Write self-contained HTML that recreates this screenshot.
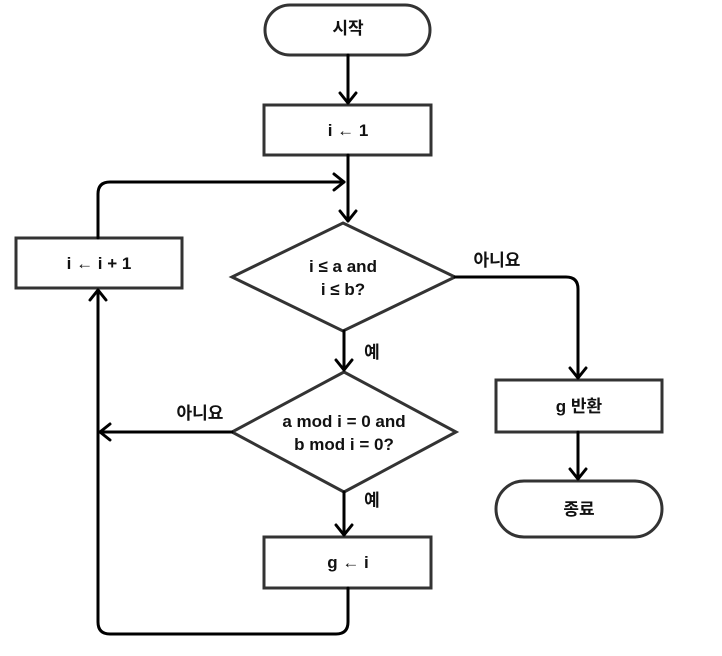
<!DOCTYPE html>
<html><head><meta charset="utf-8"><style>
html,body{margin:0;padding:0;background:#fff;}
svg text{font-family:"Liberation Sans","Noto Sans CJK KR",sans-serif;font-weight:bold;font-size:17px;fill:#111;}
</style></head><body>
<svg width="722" height="651" viewBox="0 0 722 651" xmlns="http://www.w3.org/2000/svg">
<g fill="#fff" stroke="#333" stroke-width="3">
<rect x="265" y="5" width="165" height="50" rx="25"/>
<rect x="264" y="105" width="167" height="50"/>
<rect x="16" y="238" width="166" height="50"/>
<polygon points="343,223 455,277 343,331 232,277"/>
<polygon points="344,372 456,432 344,492 232,432"/>
<rect x="264" y="537" width="167" height="51"/>
<rect x="496" y="380" width="166" height="52"/>
<rect x="496" y="481" width="166" height="56" rx="28"/>
</g>
<g fill="none" stroke="#000" stroke-width="3" stroke-linecap="round" stroke-linejoin="round">
<path d="M348 55 V103"/><path d="M340 93 L348 103 L356 93"/>
<path d="M348 155 V221"/><path d="M340 211 L348 221 L356 211"/>
<path d="M98 238 V194 Q98 182 110 182 H344"/><path d="M334 174 L344 182 L334 190"/>
<path d="M455 277 H566 Q578 277 578 289 V378"/><path d="M570 368 L578 378 L586 368"/>
<path d="M578 432 V479"/><path d="M570 469 L578 479 L586 469"/>
<path d="M344 331 V370"/><path d="M336 360 L344 370 L352 360"/>
<path d="M232 432 H100"/><path d="M110 424 L100 432 L110 440"/>
<path d="M344 492 V535"/><path d="M336 525 L344 535 L352 525"/>
<path d="M348 588 V622 Q348 634 336 634 H110 Q98 634 98 622 V290"/><path d="M90 300 L98 290 L106 300"/>
</g>
<g text-anchor="middle">
<text x="348" y="34">시작</text>
<text x="348" y="136">i ← 1</text>
<text x="99" y="269">i ← i + 1</text>
<text x="343" y="272">i ≤ a and</text>
<text x="343" y="295">i ≤ b?</text>
<text x="344" y="427">a mod i = 0 and</text>
<text x="344" y="450">b mod i = 0?</text>
<text x="348" y="568">g ← i</text>
<text x="579" y="412">g 반환</text>
<text x="579" y="515">종료</text>
<text x="497" y="266">아니요</text>
<text x="200" y="419">아니요</text>
<text x="372" y="358">예</text>
<text x="372" y="506">예</text>
</g>
</svg>
</body></html>
